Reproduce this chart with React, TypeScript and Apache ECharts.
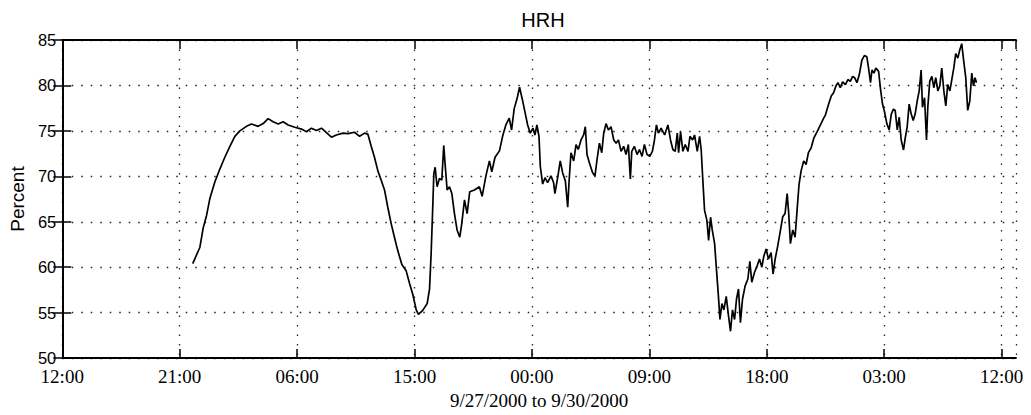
import React, { useEffect, useRef } from "react";
import * as echarts from "echarts";

// Hours since 12:00 on 9/27/2000
const hours: number[] = [
  10.0, 10.55, 10.8, 11.06, 11.32, 11.7, 12.08, 12.46, 12.85, 13.23, 13.61, 14.12, 14.51, 15.01, 15.4, 15.78,
  16.16, 16.55, 16.93, 17.31, 17.82, 18.34, 18.72, 19.1, 19.48, 19.87, 20.25, 20.63, 21.01, 21.52, 21.9,
  22.4, 22.79, 23.17, 23.42, 23.68, 23.93, 24.19, 24.44, 24.7, 24.95, 25.21, 25.46, 25.72, 26.03, 26.36,
  26.62, 26.87, 27.13, 27.3, 27.63, 27.97, 28.15, 28.27, 28.38, 28.48, 28.58, 28.73, 28.91, 29.09, 29.24,
  29.35, 29.5, 29.68, 29.86, 30.06, 30.26, 30.47, 30.62, 30.83, 31.03, 31.23, 31.59, 31.97, 32.18, 32.48,
  32.74, 32.92, 33.17, 33.51,
  33.75, 34.0, 34.26, 34.44, 34.64, 34.85, 35.05, 35.28, 35.49, 35.67, 35.87, 36.08, 36.23, 36.38, 36.54,
  36.64, 36.82, 37.0, 37.2, 37.46, 37.66, 37.76, 37.97, 38.17, 38.35, 38.56, 38.74, 38.84, 38.99, 39.2,
  39.38, 39.55, 39.76, 39.96, 40.09, 40.22, 40.4, 40.65, 40.83, 40.99, 41.17, 41.35, 41.5, 41.68, 41.86,
  42.06, 42.27, 42.45, 42.63, 42.83, 43.03, 43.21, 43.39, 43.54, 43.65, 43.85, 44.06, 44.24, 44.44, 44.62,
  44.82, 45.03, 45.23, 45.39, 45.54, 45.69, 45.9,
  46.17, 46.42, 46.62, 46.8, 46.98, 47.14, 47.24, 47.39, 47.57, 47.75, 47.96, 48.11, 48.31, 48.46, 48.67,
  48.85, 48.97, 49.1, 49.23, 49.41, 49.54, 49.69, 49.82, 50.0, 50.15, 50.3, 50.41, 50.56, 50.71, 50.89,
  51.07, 51.22, 51.37, 51.53, 51.68, 51.83, 51.98, 52.14, 52.34, 52.55, 52.7, 52.85, 53.06, 53.26, 53.44,
  53.62, 53.77, 53.95, 54.13, 54.33, 54.48, 54.64, 54.84, 55.05, 55.22, 55.4, 55.56, 55.68, 55.81, 55.99,
  56.17, 56.32, 56.47, 56.63, 56.83, 57.01, 57.19, 57.39, 57.6, 57.85, 58.11, 58.36,
  58.48, 58.74, 58.94, 59.12, 59.3, 59.45, 59.63, 59.81, 60.02, 60.22, 60.4, 60.58, 60.73, 60.91, 61.09,
  61.29, 61.49, 61.67, 61.8, 61.95, 62.06, 62.21, 62.36, 62.57, 62.72, 62.87, 63.03, 63.2, 63.38, 63.54,
  63.71, 63.84, 64.0, 64.15, 64.3, 64.48, 64.61, 64.76, 64.91, 65.07, 65.22, 65.37, 65.53, 65.68, 65.83,
  65.93, 66.09, 66.24, 66.34, 66.49, 66.65, 66.8, 66.95, 67.11, 67.26, 67.41, 67.57, 67.72, 67.87, 68.03,
  68.18, 68.33, 68.48, 68.64, 68.79, 68.94, 69.1, 69.25, 69.4, 69.56, 69.71, 69.84, 69.96, 70.07,
];

// Relative humidity (Percent)
const percent: number[] = [
  60.4, 62.2, 64.3, 65.7, 67.6, 69.4, 70.8, 72.1, 73.3, 74.4, 75.0, 75.5, 75.75, 75.5, 75.8, 76.35,
  76.0, 75.75, 76.0, 75.65, 75.4, 75.2, 74.9, 75.3, 75.05, 75.3, 74.8, 74.3, 74.55, 74.75, 74.7,
  74.85, 74.4, 74.75, 74.65, 73.3, 72.1, 70.6, 69.6, 68.5, 66.6, 64.8, 63.3, 61.8, 60.3, 59.6,
  58.2, 57.0, 55.3, 54.8, 55.25, 56.0, 57.6, 61.4, 65.9, 70.3, 71.0, 68.85, 69.75, 69.6, 73.4,
  71.2, 68.5, 68.85, 68.1, 65.9, 64.1, 63.3, 64.8, 67.4, 65.9, 68.3, 68.5, 68.85, 67.8, 70.1,
  71.7, 70.5, 72.1, 72.8,
  74.4, 75.65, 76.4, 75.1, 77.45, 78.5, 79.8, 78.35, 76.9, 75.65, 74.75, 75.3, 74.55, 75.65, 74.4,
  71.1, 69.15, 69.85, 69.3, 70.05, 69.3, 68.1, 69.85, 71.7, 70.4, 69.5, 66.6, 69.3, 72.6, 71.7,
  73.5, 72.95, 74.0, 74.55, 75.45, 72.4, 71.5, 70.4, 70.05, 71.85, 73.65, 72.6, 74.75, 75.8, 75.1,
  75.45, 74.0, 73.65, 74.0, 72.75, 73.3, 72.4, 73.5, 69.7, 72.75, 73.3, 72.4, 72.95, 72.2, 73.5,
  72.4, 72.2, 72.75, 74.0, 75.65, 74.75, 75.3,
  74.55, 75.65, 74.0, 72.95, 72.75, 74.75, 72.6, 74.9, 72.75, 73.5, 72.75, 74.4, 74.0, 74.55, 72.75,
  74.4, 72.95, 69.5, 66.25, 65.15, 62.95, 65.5, 64.1, 62.6, 59.6, 56.65, 54.25, 56.0, 55.3, 56.8,
  54.6, 52.95, 55.3, 54.25, 56.5, 57.6, 53.9, 56.5, 57.95, 58.7, 60.65, 58.35, 59.45, 60.15, 60.9,
  60.0, 61.2, 62.0, 60.9, 61.6, 59.25, 60.9, 62.35, 64.1, 65.55, 65.9, 68.1, 65.9, 62.6, 64.1,
  63.3, 66.25, 69.1, 70.6, 71.7, 71.3, 72.6, 73.1, 74.2, 74.9, 75.65, 76.4,
  76.7, 77.95, 78.85, 79.2, 79.95, 80.3, 79.75, 80.4, 80.1, 80.65, 80.45, 81.0, 80.85, 80.3, 81.2,
  82.8, 83.3, 83.15, 81.9, 80.3, 81.7, 81.35, 81.9, 81.55, 79.55, 77.95, 77.05, 75.8, 75.1, 76.85,
  77.4, 77.25, 75.1, 76.5, 74.0, 72.9, 74.2, 75.45, 77.95, 76.85, 76.15, 76.85, 78.3, 79.4, 81.7,
  77.6, 78.65, 74.0, 77.6, 80.45, 81.0, 79.75, 80.85, 79.4, 79.95, 81.9, 79.4, 77.75, 80.1, 79.4,
  80.65, 81.9, 83.5, 83.0, 83.9, 84.6, 82.6, 80.85, 77.25, 78.3, 81.35, 79.95, 80.85, 80.3,
];

const xTickHours: number[] = [0, 9, 18, 27, 36, 45, 54, 63, 72];
const startClockHour = 12;
const xMax = 73.1;
const yMin = 50;
const yMax = 85;
const yStep = 5;

const fmtHour = (v: number) => {
  if (!xTickHours.includes(Math.round(v * 100) / 100)) return "";
  const hh = (startClockHour + v) % 24;
  return (hh < 10 ? "0" : "") + hh + ":00";
};

export default function App() {
  const ref = useRef<HTMLDivElement>(null);
  useEffect(() => {
    if (!ref.current) return;
    const chart = echarts.init(ref.current, undefined, { renderer: "svg" });
    const data = hours.map((h, i) => [h, percent[i]]);
    const tickStyle = { show: true, inside: true, length: 9, lineStyle: { color: "#000", width: 1.5 } };
    const axisLine = { show: true, lineStyle: { color: "#000", width: 1.8 } };
    const dotted = { show: true, lineStyle: { color: "#222", type: [1.5, 8], width: 1.3 } };
    chart.setOption({
      animation: false,
      backgroundColor: "#fff",
      title: {
        text: "HRH",
        left: 538,
        textAlign: "center",
        top: 5,
        textStyle: { fontFamily: "Liberation Sans", fontSize: 20, fontWeight: "normal", color: "#000" },
      },
      grid: { left: 60, right: 15, top: 40, bottom: 56, containLabel: false },
      xAxis: [
        {
          type: "value",
          min: 0,
          max: xMax,
          interval: 9,
          position: "bottom",
          axisLine,
          axisTick: tickStyle,
          axisLabel: {
            formatter: fmtHour,
            showMaxLabel: false,
            margin: 10,
            lineHeight: 17,
            fontFamily: "Liberation Serif",
            fontSize: 19,
            color: "#000",
          },
          splitLine: dotted,
          name: "9/27/2000 to 9/30/2000",
          nameLocation: "middle",
          nameGap: 31,
          nameTextStyle: { fontFamily: "Liberation Serif", fontSize: 19, color: "#000" },
        },
        {
          type: "value",
          min: 0,
          max: xMax,
          interval: 9,
          position: "top",
          axisLine,
          axisTick: tickStyle,
          axisLabel: { show: false },
          splitLine: { show: false },
        },
      ],
      yAxis: [
        {
          type: "value",
          min: yMin,
          max: yMax,
          interval: yStep,
          position: "left",
          axisLine,
          axisTick: tickStyle,
          axisLabel: { margin: 6, lineHeight: 14, fontFamily: "Liberation Sans", fontSize: 16.5, color: "#000" },
          splitLine: dotted,
          name: "Percent",
          nameLocation: "middle",
          nameGap: 31,
          nameRotate: 90,
          nameTextStyle: { fontFamily: "Liberation Sans", fontSize: 19, color: "#000" },
        },
        {
          type: "value",
          min: yMin,
          max: yMax,
          interval: yStep,
          position: "right",
          axisLine,
          axisTick: tickStyle,
          axisLabel: { show: false },
          splitLine: { show: false },
        },
      ],
      series: [
        {
          type: "line",
          data,
          xAxisIndex: 0,
          yAxisIndex: 0,
          showSymbol: false,
          symbol: "none",
          lineStyle: { color: "#000", width: 1.7 },
          z: 5,
        },
      ],
    });
    return () => chart.dispose();
  }, []);
  return (
    <div
      ref={ref}
      style={{ position: "fixed", left: 0, top: 0, width: 1031, height: 415, background: "#fff" }}
    />
  );
}
